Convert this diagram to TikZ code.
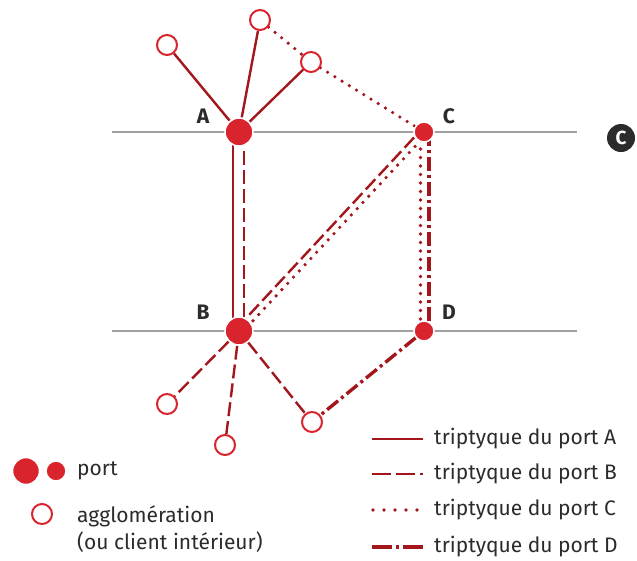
\documentclass[tikz,border=0pt]{standalone}
\usepackage{fontspec}
\setmainfont{Fira Sans}
\usetikzlibrary{calc, backgrounds}
\definecolor{portRed}{HTML}{D9232D}
\definecolor{lineRed}{HTML}{A3161C}
\definecolor{axisGrey}{HTML}{A0A0A0}
\definecolor{dark}{HTML}{2B2B2B}
\tikzset{
  port/.style={circle, fill=portRed, draw=white, line width=1.5pt, inner sep=0pt,
               minimum size=28pt},
  smallport/.style={port, minimum size=20pt},
  agglo/.style={circle, fill=white, draw=portRed, line width=2pt, inner sep=0pt,
                minimum size=20pt},
  portlabel/.style={font=\bfseries\fontsize{21}{24}\selectfont, text=dark},
  legend/.style={font=\fontsize{21}{27}\selectfont, text=dark, align=left, anchor=west,
                 inner sep=0pt},
  axis/.style={draw=axisGrey, line width=1.8pt},
  tripA/.style={draw=lineRed, line width=2.4pt},
  tripB/.style={draw=lineRed, line width=2.4pt, dash pattern=on 14pt off 5pt},
  tripC/.style={draw=lineRed, line width=3.6pt, line cap=round, dash pattern=on 0pt off 8.5pt},
  tripD/.style={draw=lineRed, line width=3.4pt, dash pattern=on 14pt off 4pt on 3pt off 4pt},
}

\begin{document}
\begin{tikzpicture}[x=1pt, y=-1pt]
\useasboundingbox (0,0) rectangle (637,560);

% --- ports on the two lines ---
\node[port]      (A) at (239,132) {};
\node[port]      (B) at (239,331) {};
\node[smallport] (C) at (424,132) {};
\node[smallport] (D) at (424,331) {};

\node[portlabel] (labA) at (203,116) {A};
\node[portlabel] (labB) at (203,312) {B};
\node[portlabel] (labC) at (449,116) {C};
\node[portlabel] (labD) at (449,312) {D};

% --- agglomerations ---
\node[agglo] (a1) at (167,45)  {};
\node[agglo] (a2) at (260,20)  {};
\node[agglo] (a3) at (311,62)  {};
\node[agglo] (b1) at (167,404) {};
\node[agglo] (b2) at (225,445) {};
\node[agglo] (b3) at (312,422) {};

\node[circle, fill=dark, text=white, inner sep=0pt, minimum size=28pt,
      font=\bfseries\fontsize{19}{20}\selectfont] (badge) at (621,138) {C};

\begin{scope}[on background layer]
  \coordinate (topW) at (112,132);
  \coordinate (topE) at (577,132);
  \coordinate (botW) at (112,331);
  \coordinate (botE) at (577,331);
  \draw[axis] (topW) -- (topE);
  \draw[axis] (botW) -- (botE);

  % --- port A ---
  \draw[tripA] (A) -- (a1);
  \draw[tripA] (A) -- (a2);
  \draw[tripA] (A) -- (a3);
  \draw[tripA] ([xshift=-6pt]A.center) -- ([xshift=-6pt]B.center);

  % --- port B ---
  \draw[tripB] ([xshift=5pt]A.center) -- ([xshift=5pt]B.center);
  \draw[tripB] ([xshift=-2.6pt,yshift=2.4pt]B.center) -- ([xshift=-2.6pt,yshift=2.4pt]C.center);
  \draw[tripB] (B) -- (b1);
  \draw[tripB] (B) -- (b2);
  \draw[tripB] (B) -- (b3);

  % --- port C ---
  \draw[tripC] (a2) -- (a3);
  \draw[tripC] (a3) -- (C);
  \draw[tripC] ([xshift=2.4pt,yshift=-2.2pt]B.center) -- ([xshift=2.4pt,yshift=-2.2pt]C.center);
  \draw[tripC] ([xshift=-3.5pt]C.center) -- ([xshift=-3.5pt]D.center);

  % --- port D ---
  \draw[tripD] ([xshift=5pt]C.center) -- ([xshift=5pt]D.center);
  \draw[tripD] (D) -- (b3);
\end{scope}

% --- legend ---
\node[port, minimum size=27pt]  (legP1) at (26,471) {};
\node[smallport]                (legP2) at (56,471) {};
\node[legend] (legPort) at (77,471) {port};
\node[agglo]                    (legA)  at (42,514) {};
\node[legend, anchor=base west] (legAgglo) at (77,549) {agglomération\\(ou client intérieur)};

\node[legend] (legTA) at (434,439) {triptyque du port A};
\node[legend] (legTB) at (434,474) {triptyque du port B};
\node[legend] (legTC) at (434,510) {triptyque du port C};
\node[legend] (legTD) at (434,547) {triptyque du port D};
\draw[tripA] ([xshift=-62pt]legTA.west) -- ([xshift=-11pt]legTA.west);
\draw[tripB, dash pattern=on 19pt off 5pt] ([xshift=-62pt]legTB.west) -- ([xshift=-11pt]legTB.west);
\draw[tripC, dash pattern=on 0pt off 11pt] ([xshift=-61pt]legTC.west) -- ([xshift=-11pt]legTC.west);
\draw[tripD, dash pattern=on 20pt off 4pt on 3pt off 4pt] ([xshift=-62pt]legTD.west) -- ([xshift=-11pt]legTD.west);

\end{tikzpicture}
\end{document}
